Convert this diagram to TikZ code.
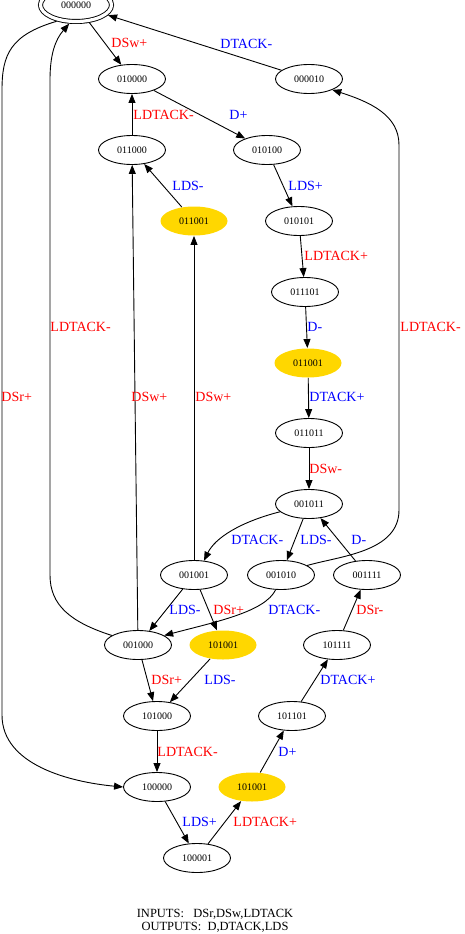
\documentclass[tikz,border=0pt]{standalone}
\usepackage{fontspec}
\setmainfont{Liberation Serif}
\usetikzlibrary{arrows.meta,shapes.geometric}
\definecolor{stgold}{RGB}{255,215,0}
\begin{document}
\begin{tikzpicture}
    [x=1pt, y=-1pt, line width=0.9pt,
     state/.style={ellipse, draw, minimum width=67pt, minimum height=29pt, inner sep=0pt, font=\fontsize{10}{12}\selectfont},
     initstate/.style={state, double, double distance=3.2pt, minimum width=71pt, minimum height=33pt, outer sep=2.5pt},
     hilite/.style={state, draw=none, fill=stgold},
     arr/.style={-{Triangle[length=9pt,width=7pt]}},
     inp/.style={text=red, font=\fontsize{14}{16}\selectfont, anchor=west, inner sep=0pt},
     outp/.style={inp, text=blue}]
    \useasboundingbox (0,0) rectangle (464,934);
    \node[initstate] (s000000) at (76,5) {000000};
    \node[state] (s010000) at (132,79) {010000};
    \node[state] (s000010) at (309,79) {000010};
    \node[state] (s011000) at (132,150) {011000};
    \node[state] (s010100) at (267,150) {010100};
    \node[hilite] (s011001a) at (194,221) {011001};
    \node[state] (s010101) at (299,221) {010101};
    \node[state] (s011101) at (305,292) {011101};
    \node[hilite] (s011001b) at (308,363) {011001};
    \node[state] (s011011) at (309,433) {011011};
    \node[state] (s001011) at (309,504) {001011};
    \node[state] (s001001) at (194,575) {001001};
    \node[state] (s001010) at (281,575) {001010};
    \node[state] (s001111) at (367,575) {001111};
    \node[state] (s001000) at (138,645) {001000};
    \node[hilite] (s101001a) at (223,645) {101001};
    \node[state] (s101111) at (337,645) {101111};
    \node[state] (s101000) at (157,716) {101000};
    \node[state] (s101101) at (292,716) {101101};
    \node[state] (s100000) at (157,787) {100000};
    \node[hilite] (s101001b) at (252,787) {101001};
    \node[state] (s100001) at (197,858) {100001};

    \draw[arr] (s000000) -- (s010000);
    \draw[arr] (s000010) -- (s000000);
    \draw[arr] (s010000) -- (s010100);
    \draw[arr] (s011000) -- (s010000);
    \draw[arr] (s011001a) -- (s011000);
    \draw[arr] (s010100) -- (s010101);
    \draw[arr] (s010101) -- (s011101);
    \draw[arr] (s011101) -- (s011001b);
    \draw[arr] (s011001b) -- (s011011);
    \draw[arr] (s011011) -- (s001011);
    \draw[arr] (s001011.195) .. controls (240,522) and (215,538) .. (s001001.55);
    \draw[arr] (s001011) -- (s001010);
    \draw[arr] (s001111) -- (s001011);
    \draw[arr] (s001010.20) .. controls (340,556) and (399,552) .. (399,510) -- (399,145) .. controls (399,115) and (370,102) .. (s000010.-25);
    \draw[arr] (s001010.250) .. controls (265,612) and (215,622) .. (s001000.20);
    \draw[arr] (s001001) -- (s001000);
    \draw[arr] (s001001) -- (s101001a);
    \draw[arr] (s001000) -- (s101000);
    \draw[arr] (s101001a) -- (s101000);
    \draw[arr] (s101000) -- (s100000);
    \draw[arr] (s100000) -- (s100001);
    \draw[arr] (s100001) -- (s101001b);
    \draw[arr] (s101001b) -- (s101101);
    \draw[arr] (s101101) -- (s101111);
    \draw[arr] (s101111) -- (s001111);
    \draw[arr] (s000000.220) .. controls (10,35) and (2,55) .. (2,90) -- (2,715) .. controls (2,765) and (70,782) .. (s100000.west);
    \draw[arr] (s001000.160) .. controls (70,622) and (50,605) .. (50,575) -- (50,80) .. controls (50,55) and (55,40) .. (s000000.250);
    \draw[arr] (s001000) -- (s011000);
    \draw[arr] (s001001) -- (s011001a);

    \node[inp] (lDSwA) at (111,43) {DSw+};
    \node[outp] (lDTACKmA) at (220,44) {DTACK-};
    \node[outp] (lDpA) at (229,115) {D+};
    \node[inp] (lLDTACKmA) at (133,115) {LDTACK-};
    \node[outp] (lLDSmA) at (172,186) {LDS-};
    \node[outp] (lLDSpA) at (288,186) {LDS+};
    \node[inp] (lLDTACKpA) at (304,256) {LDTACK+};
    \node[outp] (lDmA) at (307,327) {D-};
    \node[outp] (lDTACKpA) at (309,397) {DTACK+};
    \node[inp] (lDSwm) at (309,469) {DSw-};
    \node[outp] (lDTACKmB) at (231,540) {DTACK-};
    \node[outp] (lLDSmB) at (300,540) {LDS-};
    \node[outp] (lDmB) at (351,540) {D-};
    \node[inp] (lLDTACKmB) at (400,327) {LDTACK-};
    \node[outp] (lDTACKmC) at (268,610) {DTACK-};
    \node[outp] (lLDSmC) at (169,610) {LDS-};
    \node[inp] (lDSrA) at (213,610) {DSr+};
    \node[inp] (lDSrB) at (151,680) {DSr+};
    \node[outp] (lLDSmD) at (204,680) {LDS-};
    \node[inp] (lLDTACKmC) at (157,752) {LDTACK-};
    \node[outp] (lLDSpB) at (182,822) {LDS+};
    \node[inp] (lLDTACKpB) at (233,822) {LDTACK+};
    \node[outp] (lDpB) at (278,752) {D+};
    \node[outp] (lDTACKpB) at (320,680) {DTACK+};
    \node[inp] (lDSrm) at (356,610) {DSr-};
    \node[inp] (lDSrC) at (1,397) {DSr+};
    \node[inp] (lLDTACKmD) at (50,327) {LDTACK-};
    \node[inp] (lDSwB) at (131,397) {DSw+};
    \node[inp] (lDSwC) at (195,397) {DSw+};

    \node[font=\fontsize{12.5}{13}\selectfont, align=center] (legend) at (215,920.5) {INPUTS:\ \ \ DSr,DSw,LDTACK\\OUTPUTS:\ \ D,DTACK,LDS};
\end{tikzpicture}
\end{document}
